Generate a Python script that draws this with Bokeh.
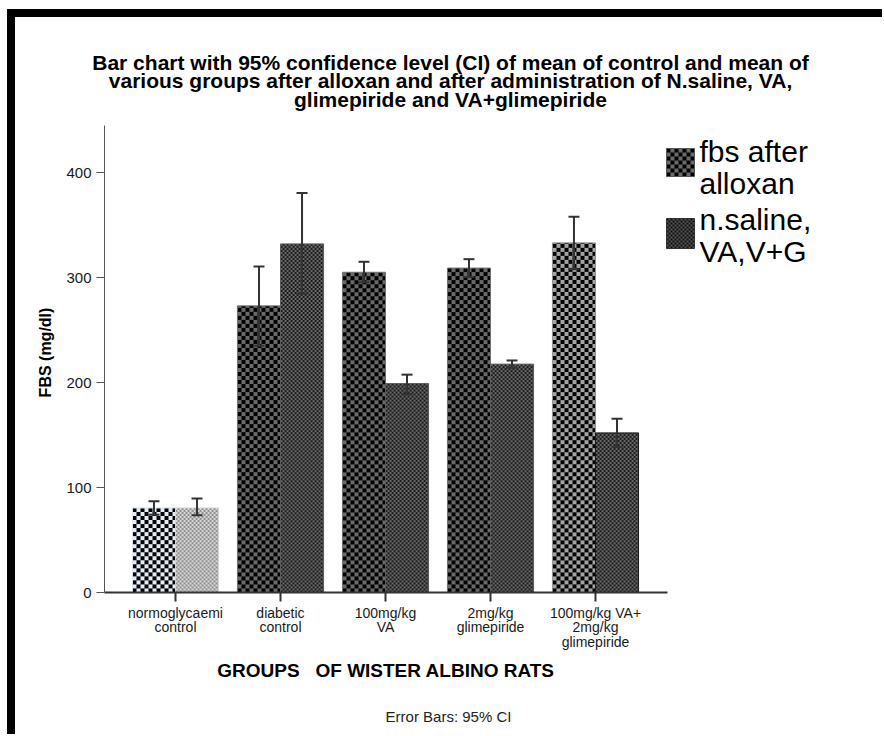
import numpy as np
from bokeh.plotting import figure
from bokeh.models import (ColumnDataSource, Range1d, FixedTicker, Whisker, TeeHead,
                          Label, Div)
from bokeh.layouts import column, row
from bokeh.embed import file_html
from bokeh.resources import INLINE

# ---------------- data ----------------
groups = ["normoglycaemi\ncontrol", "diabetic\ncontrol", "100mg/kg\nVA",
          "2mg/kg\nglimepiride", "100mg/kg VA+\n2mg/kg\nglimepiride"]
series_names = [["fbs after", "alloxan"], ["n.saline,", "VA,V+G"]]
fbs_after_alloxan = [80.5, 273, 305, 309, 333]
alloxan_ci_low = [74, 235, 295.5, 300.5, 308]
alloxan_ci_high = [87, 310.5, 315, 317.5, 358]
fbs_after_treatment = [80.5, 332, 199, 217.5, 152]
treatment_ci_low = [73.5, 284.5, 189, 214, 138.5]
treatment_ci_high = [89.5, 380.5, 207.5, 221, 165.5]
y_ticks = [0, 100, 200, 300, 400]
y_axis_max = 444.8
title_lines = ["Bar chart with 95% confidence level (CI) of mean of control and mean of",
               "various groups after alloxan and after administration of N.saline, VA,",
               "glimepiride and VA+glimepiride"]
x_title = "GROUPS \u00a0 OF WISTER ALBINO RATS"
y_title = "FBS (mg/dl)"
footnote = "Error Bars: 95% CI"

# ---------------- styles ----------------
alloxan_bg = ["#e4ecf6", "#6a6a6a", "#6a6a6a", "#6a6a6a", "#a4a4a4"]
alloxan_fg = ["#000000", "#000000", "#000000", "#000000", "#000000"]
alloxan_line = ["#dce4ee", "#6e6e6e", "#6e6e6e", "#6e6e6e", "#909090"]
treat_bg = ["#d8d8d8", "#6a6a6a", "#6a6a6a", "#6a6a6a", "#6a6a6a"]
treat_fg = ["#8e8e8e", "#1a1a1a", "#1a1a1a", "#1a1a1a", "#1a1a1a"]
treat_line = ["#d4d4d4", "#5a5a5a", "#5a5a5a", "#5a5a5a", "#1a1a1a"]
ERR = "#333333"
FONT = "Liberation Sans"
COARSE_CELL, FINE_CELL = 4, 2

# ---------------- layout (page pixels) ----------------
PAGE_X, PAGE_Y = 7, 9            # offset of the black frame
BAND = 8
FIG_X, FIG_Y = PAGE_X + BAND, PAGE_Y + BAND
FIG_W, FIG_H = 867, 717
AXIS_L_PX, AXIS_R_PX, AXIS_T_PX, AXIS_B_PX = 104, 667, 125, 592
FIRST_CENTER_PX, PITCH_PX = 175, 105
PX_PER_UNIT_Y = (AXIS_B_PX - AXIS_T_PX) / y_axis_max


def dx(px):
    return (px - FIRST_CENTER_PX) / PITCH_PX


def dy(py):
    return (AXIS_B_PX - py) / PX_PER_UNIT_Y


# the plot frame fills the whole figure; axes sit at fixed locations inside it
x_lo, x_hi = dx(FIG_X), dx(FIG_X + FIG_W)
y_lo, y_hi = dy(FIG_Y + FIG_H), dy(FIG_Y)


def rgba(h):
    h = h.lstrip("#")
    return [int(h[0:2], 16), int(h[2:4], 16), int(h[4:6], 16), 255]


def checker(h, w, cell, bg, fg):
    h, w = max(int(round(h)), 1), max(int(round(w)), 1)
    yy, xx = np.mgrid[0:h, 0:w]
    mask = ((yy // cell) + (xx // cell)) % 2 == 0
    img = np.empty((h, w), dtype=np.uint32)
    view = img.view(dtype=np.uint8).reshape((h, w, 4))
    view[mask] = rgba(fg)
    view[~mask] = rgba(bg)
    return img


BAR_W = 0.41
OFF = BAR_W / 2

p = figure(width=FIG_W, height=FIG_H, x_range=Range1d(x_lo, x_hi),
           y_range=Range1d(y_lo, y_hi), output_backend="svg", toolbar_location=None,
           min_border_left=0, min_border_right=0, min_border_top=0, min_border_bottom=0)
p.outline_line_color = None
p.xgrid.visible = False
p.ygrid.visible = False
p.background_fill_color = "white"
p.border_fill_color = "white"

idx = np.arange(len(groups))
series = [
    (idx - OFF, fbs_after_alloxan, alloxan_ci_low, alloxan_ci_high, alloxan_bg, alloxan_fg,
     alloxan_line, COARSE_CELL),
    (idx + OFF, fbs_after_treatment, treatment_ci_low, treatment_ci_high, treat_bg, treat_fg,
     treat_line, FINE_CELL),
]

bar_w_px = BAR_W * PITCH_PX
for xs, tops, lo, hi, bg, fg, ln, cell in series:
    src = ColumnDataSource(dict(x=xs, top=tops, lo=lo, hi=hi, line=ln))
    imgs = [checker(t * PX_PER_UNIT_Y, bar_w_px, cell, b, f) for t, b, f in zip(tops, bg, fg)]
    p.image_rgba(image=imgs, x=list(xs - BAR_W / 2), y=[0] * len(xs), dw=[BAR_W] * len(xs),
                 dh=list(tops))
    p.vbar(x="x", top="top", bottom=0, width=BAR_W, source=src, fill_alpha=0,
           line_color="line", line_width=1)
    w = Whisker(source=src, base="x", lower="lo", upper="hi", line_color=ERR, line_width=2,
                upper_head=TeeHead(size=11, line_color=ERR, line_width=2),
                lower_head=TeeHead(size=11, line_color=ERR, line_width=2), level="overlay")
    p.add_layout(w)

# axes
p.xaxis.fixed_location = 0
p.xaxis.bounds = (dx(AXIS_L_PX), dx(AXIS_R_PX))
p.xaxis.ticker = FixedTicker(ticks=list(idx))
p.xaxis.major_label_overrides = {int(i): g for i, g in zip(idx, groups)}
p.xaxis.major_tick_out = 9
p.xaxis.major_tick_in = 0
p.xaxis.minor_tick_line_color = None
p.xaxis.axis_line_color = "#333333"
p.xaxis.axis_line_width = 2
p.xaxis.major_tick_line_color = "#333333"
p.xaxis.major_tick_line_width = 2
p.xaxis.major_label_text_font = FONT
p.xaxis.major_label_text_font_size = "14px"
p.xaxis.major_label_text_line_height = 0.93
p.xaxis.major_label_text_color = "#1a1a1a"
p.xaxis.major_label_standoff = 3

p.yaxis.fixed_location = dx(AXIS_L_PX)
p.yaxis.bounds = (0, y_axis_max)
p.yaxis.ticker = FixedTicker(ticks=y_ticks)
p.yaxis.major_tick_out = 8
p.yaxis.major_tick_in = 0
p.yaxis.minor_tick_line_color = None
p.yaxis.axis_line_color = "#555555"
p.yaxis.axis_line_width = 1
p.yaxis.major_tick_line_color = "#555555"
p.yaxis.major_label_text_font = FONT
p.yaxis.major_label_text_font_size = "15px"
p.yaxis.major_label_text_color = "#1a1a1a"
p.yaxis.major_label_standoff = 5


def add_text(px, py, text, size, bold=False, align="center", angle=0.0, color="#000000"):
    """py is the vertical centre of the text line."""
    lab = Label(x=dx(px), y=dy(py), text=text, text_font=FONT, text_font_size=f"{size}px",
                text_font_style="bold" if bold else "normal", text_align=align,
                text_baseline="middle", angle=angle, text_color=color)
    p.add_layout(lab)


for line, cy in zip(title_lines, [61.5, 80, 98.5]):
    add_text(450, cy, line, 21, bold=True)

add_text(385.5, 670, x_title, 19, bold=True)
add_text(448, 716, footnote, 15, color="#222222")
add_text(45, 352, y_title, 16, bold=True, angle=np.pi / 2)

# legend swatches and labels
sw_specs = [(148, 176, "#6a6a6a", "#000000", "#555555", COARSE_CELL),
            (218, 248, "#555555", "#111111", "#333333", FINE_CELL)]
SW_L, SW_R = 666, 694
for (t, b, bgc, fgc, lc, cell) in sw_specs:
    p.image_rgba(image=[checker(b - t, SW_R - SW_L, cell, bgc, fgc)], x=[dx(SW_L)], y=[dy(b)],
                 dw=[(SW_R - SW_L) / PITCH_PX], dh=[(b - t) / PX_PER_UNIT_Y])
    p.quad(left=[dx(SW_L)], right=[dx(SW_R)], top=[dy(t)], bottom=[dy(b)], fill_alpha=0,
           line_color=lc, line_width=1)

for names, centres in zip(series_names, [(151, 182.6), (219.3, 251)]):
    for txt, cy in zip(names, centres):
        add_text(699, cy, txt, 30, align="left")

top_bar = Div(width=FIG_W + BAND, height=BAND, styles={"background-color": "#000000"}, margin=0)
left_bar = Div(width=BAND, height=FIG_H, styles={"background-color": "#000000"}, margin=0)
layout = column(top_bar, row(left_bar, p, spacing=0), spacing=0,
                margin=(PAGE_Y, 0, 0, PAGE_X))

open("out.html", "w").write(file_html(layout, INLINE))
